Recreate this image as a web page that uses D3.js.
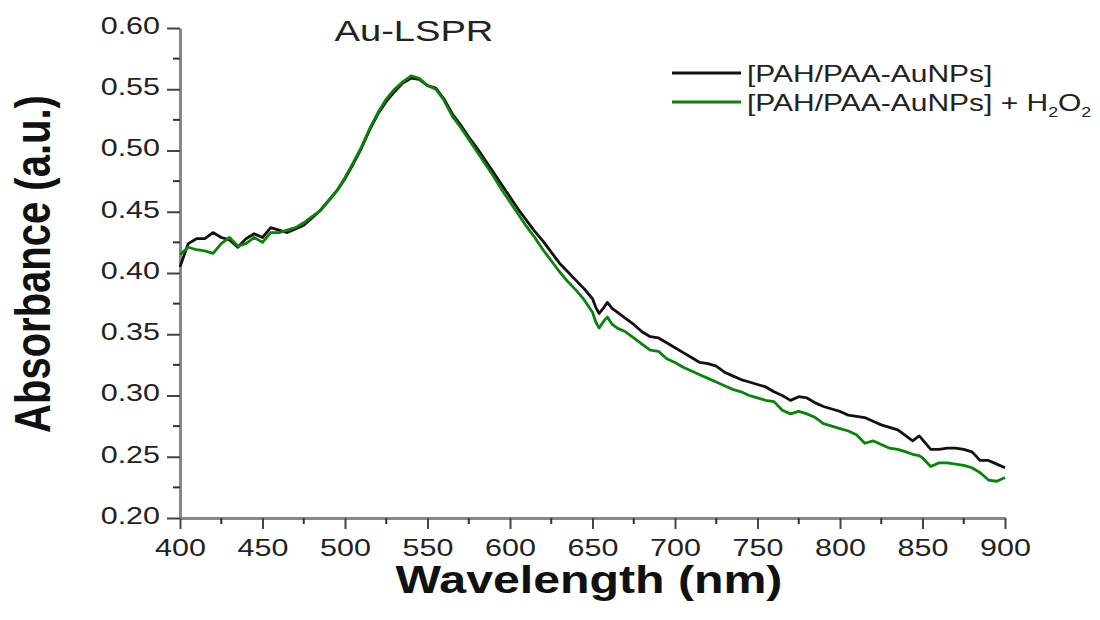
<!DOCTYPE html>
<html>
<head>
<meta charset="utf-8">
<script src="https://cdn.jsdelivr.net/npm/d3@7"></script>
<style>
  body { margin: 0; background: #fff; }
  svg { display: block; }
  text { font-family: "Liberation Sans", Arial, sans-serif; }
</style>
</head>
<body>
<svg id="chart" width="1100" height="620"></svg>
<script>
const wavelength = [400,405,410,415,420,425,430,435,440,445,450,455,460,465,470,475,480,485,490,495,
  500,505,510,515,520,525,530,535,540,545,550,555,560,565,570,575,580,585,590,595,
  600,605,610,615,620,625,630,635,640,645,650,652,654,657,659,662,665,670,675,680,685,690,695,
  700,705,710,715,720,725,730,735,740,745,750,755,760,765,770,775,780,785,790,795,
  800,805,810,815,820,825,830,835,840,844,848,850,855,860,865,870,875,880,885,890,895,900];

const absorbanceAuNPs = [0.405,0.424,0.428,0.428,0.433,0.429,0.427,0.421,0.428,0.432,0.429,0.437,0.435,0.433,0.436,0.439,0.445,0.451,0.459,0.467,
  0.477,0.489,0.502,0.517,0.530,0.540,0.548,0.555,0.559,0.558,0.553,0.551,0.542,0.530,0.521,0.511,0.502,0.492,0.482,0.472,
  0.462,0.452,0.443,0.434,0.426,0.417,0.408,0.401,0.394,0.387,0.379,0.372,0.367,0.372,0.376,0.371,0.368,0.363,0.358,0.352,0.348,0.347,0.343,
  0.339,0.335,0.331,0.327,0.326,0.324,0.319,0.316,0.313,0.311,0.309,0.307,0.303,0.300,0.296,0.299,0.298,0.294,0.291,0.289,
  0.287,0.284,0.283,0.282,0.279,0.276,0.274,0.272,0.267,0.263,0.267,0.264,0.256,0.256,0.257,0.257,0.256,0.254,0.247,0.247,0.244,0.241];

const absorbanceH2O2 = [0.415,0.421,0.419,0.418,0.416,0.424,0.429,0.422,0.424,0.429,0.425,0.433,0.433,0.435,0.437,0.441,0.446,0.451,0.459,0.467,
  0.478,0.490,0.503,0.518,0.531,0.542,0.550,0.556,0.561,0.559,0.553,0.550,0.541,0.528,0.519,0.509,0.499,0.489,0.479,0.468,
  0.458,0.448,0.438,0.429,0.419,0.410,0.401,0.393,0.386,0.378,0.368,0.360,0.355,0.361,0.364,0.358,0.355,0.352,0.347,0.342,0.337,0.336,0.330,
  0.327,0.323,0.320,0.317,0.314,0.311,0.308,0.305,0.303,0.300,0.298,0.296,0.295,0.288,0.285,0.287,0.285,0.282,0.277,0.275,
  0.273,0.271,0.268,0.261,0.263,0.260,0.257,0.256,0.254,0.252,0.251,0.249,0.242,0.245,0.245,0.244,0.243,0.241,0.237,0.231,0.230,0.233];

const xTicks = [400,450,500,550,600,650,700,750,800,850,900];
const yTicks = [0.20,0.25,0.30,0.35,0.40,0.45,0.50,0.55,0.60];
const seriesNames = ["[PAH/PAA-AuNPs]", "[PAH/PAA-AuNPs] + H2O2"];
const seriesColors = ["#111111", "#0b820b"];
const chartTitle = "Au-LSPR";
const xTitle = "Wavelength (nm)";
const yTitle = "Absorbance (a.u.)";

const SX = 1.27; // horizontal stretch of the original text
const svg = d3.select("#chart");
const m = {left: 180, right: 1005, top: 28, bottom: 518};
const x = d3.scaleLinear().domain([400, 900]).range([m.left, m.right]);
const y = d3.scaleLinear().domain([0.20, 0.60]).range([m.bottom, m.top]);

function stretch(sel) {
  sel.each(function() {
    const t = d3.select(this);
    const ax = +t.attr("x") || 0;
    t.attr("transform", `translate(${ax},0) scale(${SX},1) translate(${-ax},0)`);
  });
}

const axisColor = "#888888";
const xMinor = d3.range(425, 900, 50);
const yMinor = d3.range(0.225, 0.6, 0.05);

const gx = svg.append("g").attr("transform", `translate(0,${m.bottom})`);
gx.call(d3.axisBottom(x).tickValues(xTicks).tickFormat(d3.format("d")).tickSizeInner(11).tickSizeOuter(0));
gx.selectAll(".minor").data(xMinor).enter().append("line")
  .attr("x1", d => x(d)).attr("x2", d => x(d)).attr("y1", 0).attr("y2", 6)
  .attr("stroke", "#333").attr("stroke-width", 2);

const gy = svg.append("g").attr("transform", `translate(${m.left},0)`);
gy.call(d3.axisLeft(y).tickValues(yTicks).tickFormat(d3.format(".2f")).tickSizeInner(13).tickSizeOuter(0));
gy.selectAll(".minor").data(yMinor).enter().append("line")
  .attr("y1", d => y(d)).attr("y2", d => y(d)).attr("x1", 0).attr("x2", -7)
  .attr("stroke", "#333").attr("stroke-width", 2);

[gx, gy].forEach(g => {
  g.select(".domain").attr("stroke", axisColor).attr("stroke-width", 3);
  g.selectAll(".tick line").attr("stroke", "#444").attr("stroke-width", 2);
  g.selectAll(".tick text").attr("fill", "#222").attr("font-size", 24)
    .attr("font-family", '"Liberation Sans", Arial, sans-serif');
});
gx.selectAll(".tick text").attr("y", 38).attr("dy", 0);
gy.selectAll(".tick text").attr("x", -20).attr("dy", "0.22em");
stretch(gx.selectAll(".tick text"));
stretch(gy.selectAll(".tick text"));

const line = d3.line().x((d, i) => x(wavelength[i])).y(d => y(d));
[absorbanceAuNPs, absorbanceH2O2].forEach((vals, k) => {
  svg.append("path").datum(vals).attr("d", line)
    .attr("fill", "none").attr("stroke", seriesColors[k])
    .attr("stroke-width", 2.8).attr("stroke-linejoin", "round");
});

// titles
svg.append("text").attr("x", 414).attr("y", 41).attr("text-anchor", "middle")
  .attr("font-size", 30).attr("fill", "#222").text(chartTitle).call(stretch);
svg.append("text").attr("x", 589).attr("y", 593).attr("text-anchor", "middle")
  .attr("font-size", 38).attr("font-weight", "bold").attr("fill", "#111").text(xTitle).call(stretch);
svg.append("text").attr("transform", `translate(50,264) scale(${SX},1) rotate(-90)`).attr("text-anchor", "middle")
  .attr("font-size", 40).attr("font-weight", "bold").attr("fill", "#111").text(yTitle);

// legend
[0, 1].forEach(k => {
  const yy = 73 + k * 29;
  svg.append("line").attr("x1", 672).attr("x2", 741).attr("y1", yy).attr("y2", yy)
    .attr("stroke", seriesColors[k]).attr("stroke-width", 2.8);
  const t = svg.append("text").attr("x", 747).attr("y", yy + 9).attr("font-size", 23.6).attr("fill", "#222");
  if (k === 0) {
    t.text(seriesNames[0]);
  } else {
    t.append("tspan").text("[PAH/PAA-AuNPs] + H");
    t.append("tspan").attr("font-size", 14).attr("dy", 6).text("2");
    t.append("tspan").attr("dy", -6).text("O");
    t.append("tspan").attr("font-size", 14).attr("dy", 6).text("2");
  }
  t.call(stretch);
});
</script>
</body>
</html>
